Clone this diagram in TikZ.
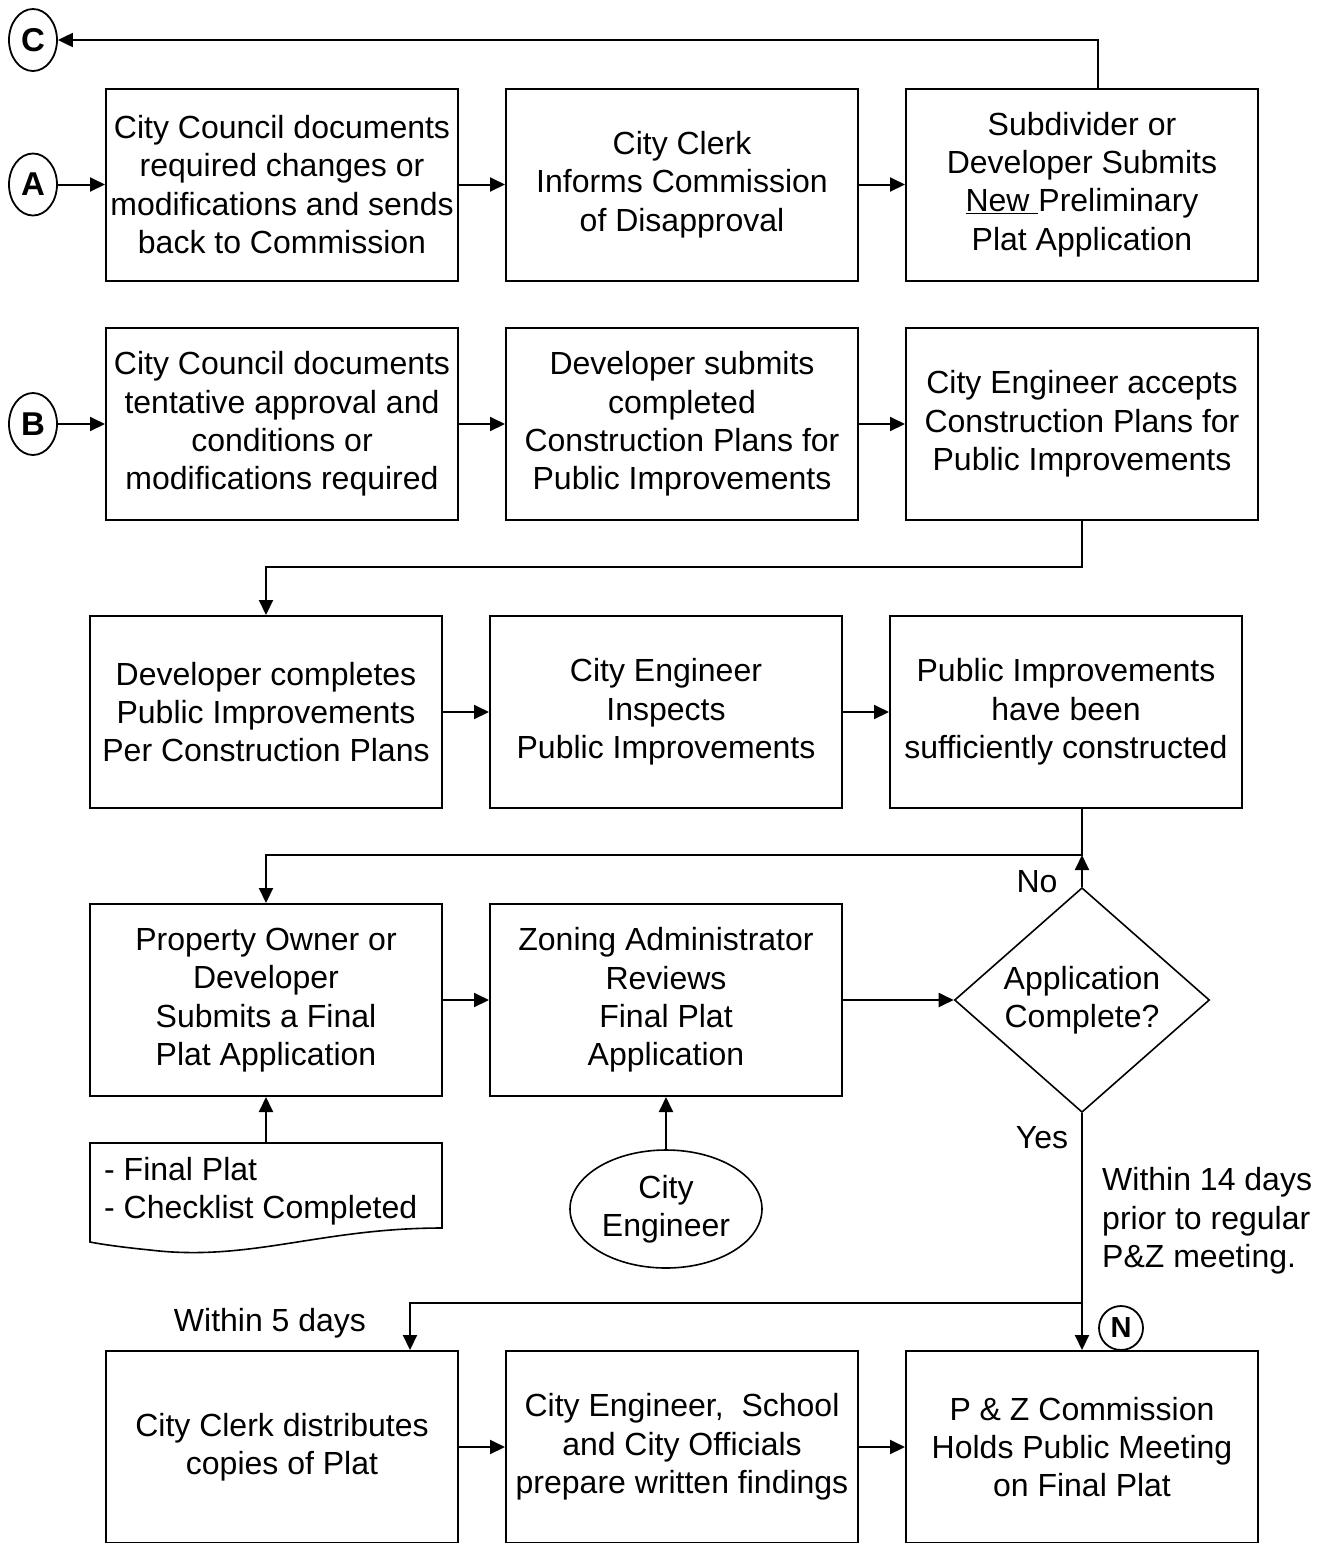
\documentclass[tikz,border=0pt]{standalone}
\usepackage{fontspec}
\setmainfont{Liberation Sans}
\usetikzlibrary{shapes.geometric,arrows.meta}
\begin{document}
\begin{tikzpicture}[x=1pt,y=-1pt,
 every node/.style={font=\fontsize{32}{38.3}\selectfont},
 box/.style={draw,line width=2pt,minimum width=352pt,minimum height=192pt,align=center,inner sep=0pt},
 conn/.style={line width=2pt,-{Triangle[length=15pt,width=14pt]}},
 plain/.style={line width=2pt},
 circ/.style={draw,line width=1.8pt,ellipse,minimum width=48pt,minimum height=62pt,inner sep=0pt,font=\fontsize{33}{35}\selectfont\bfseries},
 lbl/.style={inner sep=0pt,align=left}]
\useasboundingbox (0,0) rectangle (1331,1543);
% row 1
\node[box] (a1) at (282,184.5) {City Council documents\\required changes or\\modifications and sends\\back to Commission};
\node[box] (a2) at (682,184.5) {City Clerk\\Informs Commission\\of Disapproval};
\node[box] (a3) at (1082,184.5) {Subdivider or\\Developer Submits\\\underline{New }Preliminary\\Plat Application};
\path (282,183.5) coordinate (r1);
% row 2
\node[box] (b1) at (282,424) {City Council documents\\tentative approval and\\conditions or\\modifications required};
\node[box] (b2) at (682,424) {Developer submits\\completed\\Construction Plans for\\Public Improvements};
\node[box] (b3) at (1082,424) {City Engineer accepts\\Construction Plans for\\Public Improvements};
% row 3
\node[box] (c1) at (266,712) {Developer completes\\Public Improvements\\Per Construction Plans};
\node[box] (c2) at (666,712) {City Engineer\\Inspects\\Public Improvements};
\node[box] (c3) at (1066,712) {Public Improvements\\have been\\sufficiently constructed};
% row 4
\node[box] (d1) at (266,1000) {Property Owner or\\Developer\\Submits a Final\\Plat Application};
\node[box] (d2) at (666,1000) {Zoning Administrator\\Reviews\\Final Plat\\Application};
\node[draw,diamond,line width=1.6pt,minimum width=255pt,minimum height=223pt,inner sep=0pt,align=center] (dia) at (1082,1000) {Application\\Complete?};
% row 5
\node[box] (e1) at (282,1447) {City Clerk distributes\\copies of Plat};
\node[box] (e2) at (682,1447) {City Engineer,~ School\\and City Officials\\prepare written findings};
\node[box] (e3) at (1082,1447) {P \& Z Commission\\Holds Public Meeting\\on Final Plat};
% circles
\node[circ] (C) at (33,40) {C};
\node[circ] (A) at (33,184.5) {A};
\node[circ] (B) at (33,424) {B};
\node[circ,circle,minimum size=44pt,font=\fontsize{29}{31}\selectfont\bfseries] (N) at (1121,1328) {N};
% document
\draw[line width=1.6pt] (90,1143) -- (442,1143) -- (442,1228)
  .. controls (320,1228) and (250,1262) .. (150,1250)
  .. controls (120,1247) and (100,1244) .. (90,1242) -- cycle;
\coordinate (doctop) at (266,1143);
\node[lbl,anchor=west] (doc) at (104,1191) {- Final Plat\\- Checklist Completed};
% ellipse
\node[draw,ellipse,line width=1.6pt,minimum width=192pt,minimum height=118pt,inner sep=0pt,align=center] (ce) at (666,1209) {City\\Engineer};
% labels
\node (no) at (1037,882) {No};
\node (yes) at (1042,1138) {Yes};
\node (w5) at (270,1323) {Within 5 days};
\node[lbl,anchor=west] (w14) at (1102,1221) {Within 14 days\\prior to regular\\P\&Z meeting.};
% connectors
\draw[conn] ([xshift=16pt]a3.north) |- (C.east);
\draw[conn] (A.east) -- (a1.west);
\draw[conn] (a1) -- (a2);
\draw[conn] (a2) -- (a3);
\draw[conn] (B.east) -- (b1.west);
\draw[conn] (b1) -- (b2);
\draw[conn] (b2) -- (b3);
\coordinate (j1) at (1082,567);
\draw[conn] (b3.south) -- (j1) -| (c1.north);
\draw[conn] (c1) -- (c2);
\draw[conn] (c2) -- (c3);
\coordinate (j2) at (1082,855);
\draw[conn] ([xshift=16pt]c3.south) -- (j2) -| (d1.north);
\draw[conn] (dia.north) -- (j2);
\draw[conn] (d1) -- (d2);
\draw[conn] (d2) -- (dia);
\draw[conn] (doctop) -- (d1.south);
\draw[conn] (ce.north) -- (d2.south);
\coordinate (split) at (1082,1303);
\draw[conn] (dia.south) -- (e3.north);
\draw[conn] (split) -| ([xshift=128pt]e1.north);
\draw[conn] (e1) -- (e2);
\draw[conn] (e2) -- (e3);
\end{tikzpicture}
\end{document}
